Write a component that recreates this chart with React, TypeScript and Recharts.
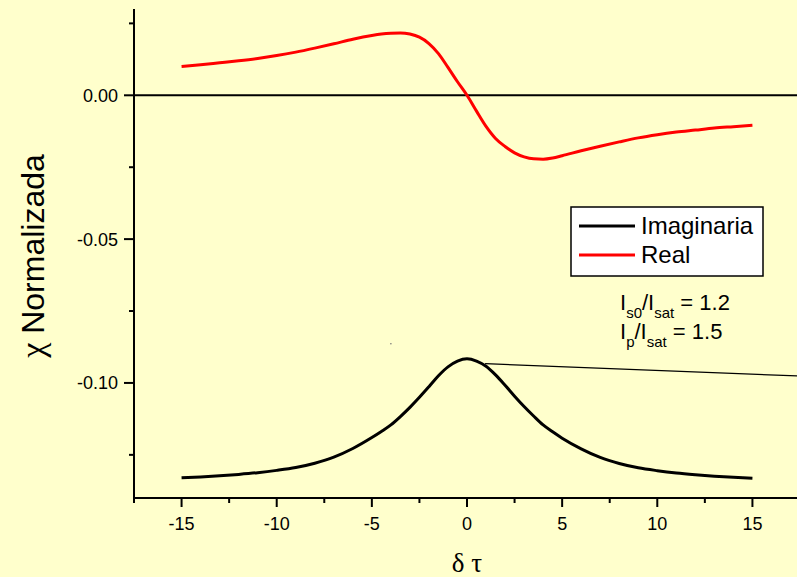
import React from 'react';
import { LineChart, Line, XAxis, YAxis, ReferenceLine, ReferenceDot, Legend, Customized } from 'recharts';

// δτ values
const detuning = [-15, -14, -13, -12, -11, -10, -9, -8, -7, -6, -5, -4.5, -4, -3.5, -3, -2.5, -2, -1.5, -1, -0.5, 0, 0.5, 1, 1.5, 2, 2.5, 3, 3.5, 4, 4.5, 5, 6, 7, 8, 9, 10, 11, 12, 13, 14, 15];
// Imaginary part (black)
const imaginaria = [-0.1330, -0.1327, -0.1323, -0.1318, -0.1312, -0.1304, -0.1294, -0.1279, -0.1258, -0.1228, -0.1190, -0.1169, -0.1146, -0.1117, -0.1085, -0.1050, -0.1013, -0.0975, -0.0944, -0.0924, -0.0916, -0.0924, -0.0942, -0.0972, -0.1008, -0.1046, -0.1082, -0.1115, -0.1146, -0.1170, -0.1192, -0.1229, -0.1259, -0.1280, -0.1295, -0.1305, -0.1313, -0.1319, -0.1324, -0.1328, -0.1331];
// Real part (red)
const real = [0.0100, 0.0106, 0.0113, 0.0120, 0.0128, 0.0138, 0.0150, 0.0164, 0.0179, 0.0195, 0.0208, 0.0213, 0.0216, 0.0217, 0.0213, 0.0202, 0.0180, 0.0145, 0.0097, 0.0047, 0.0000, -0.0055, -0.0108, -0.0150, -0.0178, -0.0200, -0.0214, -0.0221, -0.0222, -0.0218, -0.0210, -0.0193, -0.0177, -0.0162, -0.0148, -0.0137, -0.0128, -0.0121, -0.0114, -0.0109, -0.0104];

const xTicks = [-17.5, -15, -12.5, -10, -7.5, -5, -2.5, 0, 2.5, 5, 7.5, 10, 12.5, 15, 17.5];
const yTicks = [0.025, 0, -0.025, -0.05, -0.075, -0.1, -0.125];

const pointerLine = [{ x: 0.95, y: -0.0933 }, { x: 17.5, y: -0.0976 }];
const strayDot = { x: -4, y: -0.0864 };

const data = detuning.map((x, i) => ({ x, imag: imaginaria[i], real: real[i] }));

const SANS = '"Liberation Sans", Arial, sans-serif';
const SERIF = '"Liberation Serif", "Times New Roman", serif';

const XTick = (props: any) => {
  const { x, y, payload } = props;
  const v = payload.value as number;
  const major = Math.abs(v % 5) < 1e-9;
  return (
    <g>
      <line x1={x} x2={x} y1={y} y2={y + (major ? 9 : 5)} stroke="#000" strokeWidth={2} />
      {major && (
        <text x={x} y={y + 32} textAnchor="middle" fontSize={18} fontFamily={SANS} fill="#000">
          {String(v)}
        </text>
      )}
    </g>
  );
};

const YTick = (props: any) => {
  const { x, y, payload } = props;
  const v = payload.value as number;
  const r = v / 0.05;
  const major = Math.abs(r - Math.round(r)) < 1e-6;
  const label = Math.abs(v) < 1e-9 ? '0.00' : v.toFixed(2);
  return (
    <g>
      <line x1={x - (major ? 10 : 5)} x2={x} y1={y} y2={y} stroke="#000" strokeWidth={2} />
      {major && (
        <text x={x - 16} y={y + 6.5} textAnchor="end" fontSize={18} fontFamily={SANS} fill="#000">
          {label}
        </text>
      )}
    </g>
  );
};

const LegendBox = (props: any) => {
  const payload = (props.payload || []) as any[];
  return (
    <svg width={194} height={71} style={{ display: 'block' }}>
      <rect x={1} y={1} width={192} height={69} fill="#fff" stroke="#000" strokeWidth={1.5} />
      {payload.map((p, i) => (
        <g key={String(p.value)}>
          <line x1={9} x2={65} y1={20 + i * 29} y2={20 + i * 29} stroke={p.color} strokeWidth={3} />
          <text x={71} y={28 + i * 29} fontSize={24} fontFamily={SANS} fill="#000">
            {p.value}
          </text>
        </g>
      ))}
    </svg>
  );
};

const Annotations = () => (
  <g>
    <text x={44} y={256} transform="rotate(-90, 44, 256)" textAnchor="middle" fontSize={32} fontFamily={SANS} fill="#000">
      <tspan fontFamily={SERIF} fontSize={34}>χ</tspan> Normalizada
    </text>
    <text x={467} y={572} textAnchor="middle" fontSize={27} fontFamily={SERIF} fill="#000">
      δ τ
    </text>
    <text x={620} y={310} fontSize={22} fontFamily={SANS} fill="#000">
      I<tspan fontSize={15} dy={8}>s0</tspan>
      <tspan dy={-8}>/I</tspan>
      <tspan fontSize={15} dy={8}>sat</tspan>
      <tspan dy={-8}> = 1.2</tspan>
    </text>
    <text x={620} y={339} fontSize={22} fontFamily={SANS} fill="#000">
      I<tspan fontSize={15} dy={8}>p</tspan>
      <tspan dy={-8}>/I</tspan>
      <tspan fontSize={15} dy={8}>sat</tspan>
      <tspan dy={-8}> = 1.5</tspan>
    </text>
  </g>
);

export default function App() {
  return (
    <div style={{ position: 'absolute', left: 0, top: 0, width: 797, height: 577, overflow: 'hidden', background: '#FFFFCC' }}>
      <LineChart width={820} height={577} data={data} margin={{ top: 9, right: 20, bottom: 0, left: 0 }}>
        <XAxis
          type="number"
          dataKey="x"
          domain={[-17.5, 17.5]}
          ticks={xTicks}
          interval={0}
          allowDataOverflow
          height={79}
          tickSize={0}
          tickMargin={0}
          tickLine={false}
          tick={<XTick />}
          axisLine={{ stroke: '#000', strokeWidth: 2 }}
        />
        <YAxis
          type="number"
          domain={[-0.14, 0.03]}
          ticks={yTicks}
          interval={0}
          allowDataOverflow
          width={134}
          tickSize={0}
          tickMargin={0}
          tickLine={false}
          tick={<YTick />}
          axisLine={{ stroke: '#000', strokeWidth: 2 }}
        />
        <ReferenceLine y={0} stroke="#000" strokeWidth={2} />
        <ReferenceLine segment={pointerLine} stroke="#000" strokeWidth={1.3} />
        <ReferenceDot x={strayDot.x} y={strayDot.y} r={0.8} fill="#777" stroke="none" />
        <Line type="monotone" dataKey="imag" name="Imaginaria" stroke="#000" strokeWidth={3} dot={false} activeDot={false} isAnimationActive={false} />
        <Line type="monotone" dataKey="real" name="Real" stroke="#FF0000" strokeWidth={3} dot={false} activeDot={false} isAnimationActive={false} />
        <Legend
          layout="vertical"
          align="center"
          verticalAlign="middle"
          content={<LegendBox />}
          wrapperStyle={{ position: 'absolute', left: 570, top: 206, width: 194, height: 71 }}
        />
        <Customized component={<Annotations />} />
      </LineChart>
    </div>
  );
}
